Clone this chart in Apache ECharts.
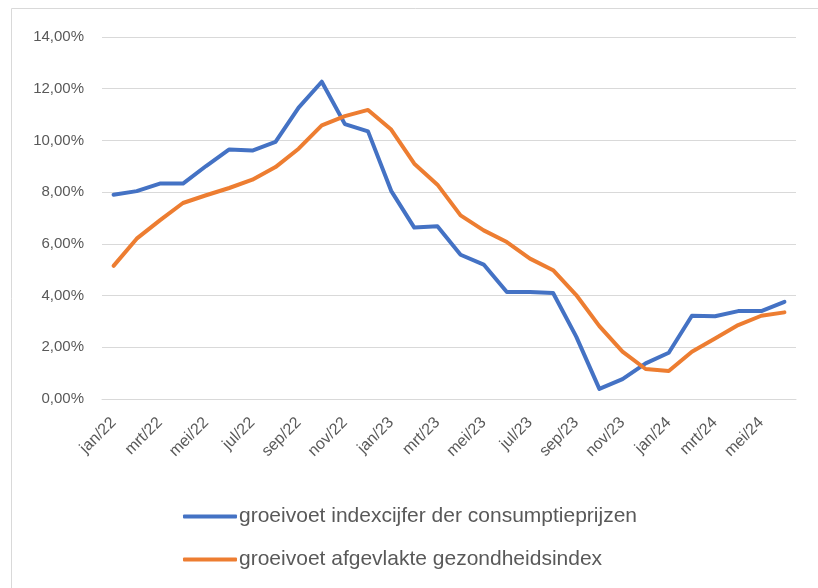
<!DOCTYPE html>
<html>
<head>
    <meta charset="utf-8">
    <title>Groeivoet</title>
    <script src="https://cdn.jsdelivr.net/npm/echarts@6/dist/echarts.min.js"></script>
</head>
<body style="margin:0;background:#fff">
    <div id="main" style="width:818px;height:588px;"></div>
    <script type="text/javascript">
        // maanden jan/22 .. jun/24
        var months = ['jan/22','feb/22','mrt/22','apr/22','mei/22','jun/22','jul/22','aug/22','sep/22','okt/22','nov/22','dec/22',
                      'jan/23','feb/23','mrt/23','apr/23','mei/23','jun/23','jul/23','aug/23','sep/23','okt/23','nov/23','dec/23',
                      'jan/24','feb/24','mrt/24','apr/24','mei/24','jun/24'];

        // groeivoet indexcijfer der consumptieprijzen (%)
        var cpi = [7.90, 8.04, 8.33, 8.33, 9.01, 9.65, 9.61, 9.94, 11.27, 12.27, 10.63, 10.35,
                   8.05, 6.63, 6.68, 5.58, 5.20, 4.14, 4.14, 4.10, 2.41, 0.39, 0.77, 1.38,
                   1.79, 3.22, 3.20, 3.40, 3.40, 3.76];

        // groeivoet afgevlakte gezondheidsindex (%)
        var health = [5.15, 6.20, 6.91, 7.58, 7.88, 8.16, 8.48, 8.97, 9.68, 10.58, 10.94, 11.18,
                      10.42, 9.10, 8.29, 7.10, 6.52, 6.07, 5.43, 4.98, 4.02, 2.82, 1.83, 1.16,
                      1.08, 1.83, 2.34, 2.86, 3.22, 3.35];

        var names = ['groeivoet indexcijfer der consumptieprijzen', 'groeivoet afgevlakte gezondheidsindex'];

        var myChart = echarts.init(document.getElementById('main'));

        var option = {
            animation: false,
            color: ['#4472C4', '#ED7D31'],
            textStyle: { fontFamily: 'Liberation Sans, sans-serif' },
            graphic: [{
                type: 'rect',
                shape: { x: 11.5, y: 8.5, width: 900, height: 700 },
                style: { fill: 'none', stroke: '#d9d9d9', lineWidth: 1 },
                silent: true
            }],
            grid: { left: 102, right: 22, top: 37, bottom: 189 },
            legend: {
                orient: 'vertical',
                left: 178,
                top: 501,
                itemWidth: 54,
                itemHeight: 4,
                itemGap: 22,
                icon: 'roundRect',
                textStyle: { fontSize: 21, color: '#595959', padding: [0, 0, 0, -3] },
                data: names
            },
            xAxis: {
                type: 'category',
                data: months,
                boundaryGap: true,
                axisLine: { lineStyle: { color: '#d9d9d9' } },
                axisTick: { show: false },
                axisLabel: { interval: 1, rotate: 45, color: '#595959', fontSize: 16, margin: 21 }
            },
            yAxis: {
                type: 'value',
                min: 0,
                max: 14,
                interval: 2,
                axisLine: { show: false },
                axisTick: { show: false },
                splitLine: { lineStyle: { color: '#d9d9d9', width: 1 } },
                axisLabel: {
                    color: '#595959',
                    fontSize: 15,
                    margin: 18,
                    formatter: function (v) { return v.toFixed(2).replace('.', ',') + '%'; }
                }
            },
            series: [
                {
                    name: names[0],
                    type: 'line',
                    data: cpi,
                    symbol: 'none',
                    lineStyle: { width: 4, cap: 'round', join: 'round' }
                },
                {
                    name: names[1],
                    type: 'line',
                    data: health,
                    symbol: 'none',
                    lineStyle: { width: 4, cap: 'round', join: 'round' }
                }
            ]
        };

        myChart.setOption(option);
    </script>
</body>
</html>
